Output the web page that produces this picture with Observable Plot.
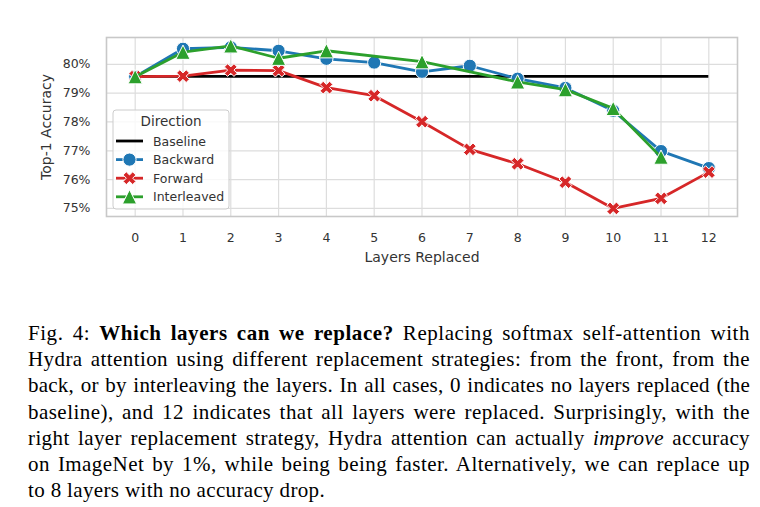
<!DOCTYPE html>
<html><head><meta charset="utf-8">
<script src="https://cdn.jsdelivr.net/npm/d3@7"></script>
<script src="https://cdn.jsdelivr.net/npm/@observablehq/plot@0.6"></script>
<style>
html,body{margin:0;background:#fff}
body{width:760px;height:507px;overflow:hidden;position:relative}
#chart{position:absolute;left:0;top:0}
#caption{position:absolute;left:28px;top:320px;width:722px;font-family:"Liberation Serif","Times New Roman",serif;font-size:21px;line-height:26.2px;color:#000}
.ln{white-space:nowrap;display:block}
</style></head><body>
<div id="chart"></div><div id="caption"></div>
<script>
// ---- data ----
const layers = [0,1,2,3,4,5,6,7,8,9,10,11,12];
const baselineValue = 79.58;
const backward = [79.57,80.54,80.59,80.47,80.19,80.06,79.74,79.95,79.50,79.18,78.39,76.99,76.40];
const forward = [79.57,79.59,79.80,79.78,79.19,78.91,78.01,77.05,76.55,75.91,75.00,75.35,76.26];
const interleavedLayers = [0,1,2,3,4,6,8,9,10,11];
const interleaved = [79.57,80.42,80.64,80.21,80.47,80.09,79.39,79.12,78.47,76.78];
const yTicks = [75,76,77,78,79,80];
const legendNames = ["Baseline","Backward","Forward","Interleaved"];
const colors = {Baseline:"#000000",Backward:"#1f77b4",Forward:"#d62728",Interleaved:"#2ca02c"};
const captionLines = [
  [["Fig. 4: ",""],["Which layers can we replace?","b"],[" Replacing softmax self-attention with",""]],
  [["Hydra attention using different replacement strategies: from the front, from the",""]],
  [["back, or by interleaving the layers. In all cases, 0 indicates no layers replaced (the",""]],
  [["baseline), and 12 indicates that all layers were replaced. Surprisingly, with the",""]],
  [["right layer replacement strategy, Hydra attention can actually ",""],["improve","i"],[" accuracy",""]],
  [["on ImageNet by 1%, while being being faster. Alternatively, we can replace up",""]],
  [["to 8 layers with no accuracy drop.",""]]
];

// ---- symbols (matplotlib-like) ----
const circleSym = d3.symbolCircle;
const triSym = {draw(ctx, size){const r=Math.sqrt(size/Math.PI)*1.08; ctx.moveTo(0,-r); ctx.lineTo(-r,r); ctx.lineTo(r,r); ctx.closePath();}};
const xSym = {draw(ctx, size){
  const s=Math.sqrt(size/Math.PI)*2.05;
  const pts=[[-1,-3],[1,-3],[1,-1],[3,-1],[3,1],[1,1],[1,3],[-1,3],[-1,1],[-3,1],[-3,-1],[-1,-1]];
  const c=Math.SQRT1_2;
  pts.forEach(([a,b],i)=>{const x=a/6*s,y=b/6*s; const X=(x-y)*c, Y=(x+y)*c; i?ctx.lineTo(X,Y):ctx.moveTo(X,Y);});
  ctx.closePath();
}};
const symbols = {Backward:circleSym,Forward:xSym,Interleaved:triSym};

const rows = [
  ...layers.map((l,i)=>({s:"Backward",x:l,y:backward[i]})),
  ...layers.map((l,i)=>({s:"Forward",x:l,y:forward[i]})),
  ...interleavedLayers.map((l,i)=>({s:"Interleaved",x:l,y:interleaved[i]}))
];

const W=760,H=300;
const R=6.6, LW=2.8;
const seriesMarks = ["Backward","Forward","Interleaved"].flatMap(name=>{
  const d=rows.filter(r=>r.s===name);
  return [
    Plot.line(d,{x:"x",y:"y",stroke:colors[name],strokeWidth:LW}),
    Plot.dot(d,{x:"x",y:"y",fill:colors[name],stroke:"white",strokeWidth:1,r:R,symbol:symbols[name]})
  ];
});

const chart = Plot.plot({
  width:W,height:H,
  marginLeft:106,marginRight:23,marginTop:37,marginBottom:84,
  style:{fontFamily:"DejaVu Sans, sans-serif",fontSize:"12.5px",color:"#333",background:"white"},
  x:{domain:[-0.6,12.6]},
  y:{domain:[74.72,80.93]},
  marks:[
    Plot.gridX(layers,{stroke:"#dddddd",strokeOpacity:1,strokeWidth:1.2}),
    Plot.gridY(yTicks,{stroke:"#dddddd",strokeOpacity:1,strokeWidth:1.2}),
    Plot.frame({stroke:"#c8c8c8",strokeWidth:1.6}),
    Plot.axisX(layers,{tickSize:0,tickPadding:17,fontSize:12.5,label:null}),
    Plot.axisX({ticks:[],label:"Layers Replaced",labelAnchor:"center",labelArrow:"none",labelOffset:45,fontSize:14}),
    Plot.axisY(yTicks,{tickSize:0,tickPadding:16,fontSize:12.5,tickFormat:d=>d+"%",label:null}),
    Plot.axisY({ticks:[],label:"Top-1 Accuracy",labelAnchor:"center",labelArrow:"none",labelOffset:65,fontSize:14}),
    Plot.ruleY([baselineValue],{x1:d3.min(layers),x2:d3.max(layers),stroke:"#000",strokeWidth:LW}),
    ...seriesMarks
  ]
});
document.getElementById("chart").appendChild(chart);

// ---- legend (inset, like matplotlib) ----
const svg = d3.select(chart);
const lg = svg.append("g").attr("font-family","DejaVu Sans, sans-serif").attr("fill","#333").attr("text-anchor","start");
lg.append("rect").attr("x",113).attr("y",110).attr("width",116).attr("height",99).attr("rx",3)
  .attr("fill","white").attr("fill-opacity",0.8).attr("stroke","#cccccc").attr("stroke-width",1);
lg.append("text").attr("x",171).attr("y",125.5).attr("text-anchor","middle").attr("font-size",13.5).text("Direction");
legendNames.forEach((name,i)=>{
  const cy=141+i*18.6;
  const item=lg.append("g").attr("transform",`translate(0,${cy})`);
  item.append("line").attr("x1",116).attr("x2",143).attr("stroke",colors[name]).attr("stroke-width",LW);
  if(symbols[name]) item.append("path").attr("transform","translate(129.5,0)")
    .attr("d",d3.symbol(symbols[name],Math.PI*R*R)()).attr("fill",colors[name]).attr("stroke","white").attr("stroke-width",1);
  item.append("text").attr("x",153).attr("y",4.5).attr("font-size",12.5).attr("text-anchor","start").text(name);
});

// ---- caption ----
const cap = document.getElementById("caption");
const CW = 722;
captionLines.forEach((segs,li)=>{
  const div=document.createElement("div"); div.className="ln";
  const span=document.createElement("span");
  segs.forEach(([t,st])=>{
    const e=document.createElement(st==="b"?"b":st==="i"?"i":"span");
    e.textContent=t; span.appendChild(e);
  });
  div.appendChild(span); cap.appendChild(div);
  const txt=span.textContent;
  const n=(txt.match(/ /g)||[]).length;
  const w0=span.getBoundingClientRect().width;
  let ls=0;
  if(li<captionLines.length-1){
    ls=Math.max(0,Math.min(0.55,(CW-w0)*0.55/txt.length));
  } else ls=0.35;
  span.style.letterSpacing=ls+"px";
  if(li<captionLines.length-1){
    const w=span.getBoundingClientRect().width;
    span.style.wordSpacing=((CW-w)/n)+"px";
  }
});
</script>
</body></html>
